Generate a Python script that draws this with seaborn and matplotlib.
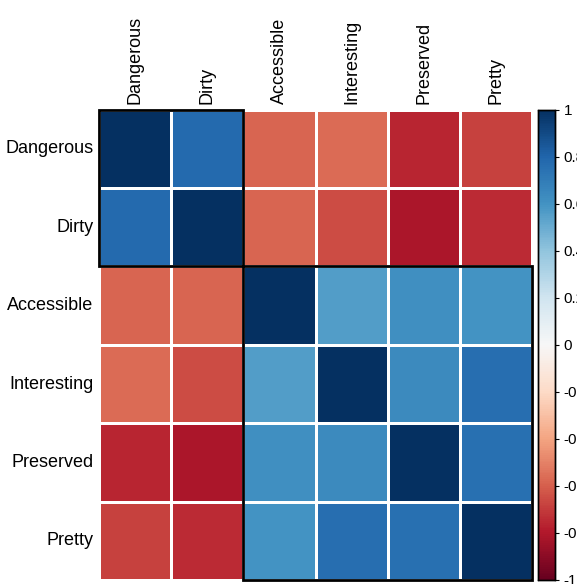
import numpy as np
import pandas as pd
import matplotlib
matplotlib.use("Agg")
import matplotlib.pyplot as plt
import matplotlib.patches as patches
import seaborn as sns

# Variables and their pairwise correlations
labels = ['Dangerous', 'Dirty', 'Accessible', 'Interesting', 'Preserved', 'Pretty']
row_dangerous = [1.00, 0.78, -0.58, -0.57, -0.76, -0.68]
row_dirty = [0.78, 1.00, -0.58, -0.65, -0.82, -0.75]
row_accessible = [-0.58, -0.58, 1.00, 0.56, 0.61, 0.60]
row_interesting = [-0.57, -0.65, 0.56, 1.00, 0.64, 0.76]
row_preserved = [-0.76, -0.82, 0.61, 0.64, 1.00, 0.75]
row_pretty = [-0.68, -0.75, 0.60, 0.76, 0.75, 1.00]
clusters = [(0, 2), (2, 6)]  # start, end index of each hclust rectangle
cbar_ticks = [1, 0.8, 0.6, 0.4, 0.2, 0, -0.2, -0.4, -0.6, -0.8, -1]

corr = pd.DataFrame([row_dangerous, row_dirty, row_accessible,
                     row_interesting, row_preserved, row_pretty],
                    index=labels, columns=labels)

sns.set_style("white")
plt.rcParams['font.family'] = ['Liberation Sans', 'DejaVu Sans']
plt.rcParams['text.color'] = 'black'
plt.rcParams['xtick.color'] = 'black'
plt.rcParams['ytick.color'] = 'black'

fig = plt.figure(figsize=(5.77, 5.84), dpi=100)
ax = fig.add_axes([0.172, 0.007, 0.750, 0.805])
cax = fig.add_axes([0.933, 0.007, 0.029, 0.805])

sns.heatmap(corr, ax=ax, cbar_ax=cax, cmap="RdBu", vmin=-1, vmax=1,
            linewidths=1, linecolor="white", square=False)

ax.xaxis.tick_top()
ax.set_xticklabels(labels, rotation=90, fontsize=13)
ax.set_yticklabels(labels, rotation=0, fontsize=13)
ax.tick_params(length=0, pad=4, labelcolor='black')
ax.set_xlabel("")
ax.set_ylabel("")

# cluster boxes
for s, e in clusters:
    ax.add_patch(patches.Rectangle((s, s), e - s, e - s, fill=False,
                                   edgecolor="black", lw=2, clip_on=False))

cax.set_yticks(cbar_ticks)
cax.set_yticklabels([f"{t:g}" for t in cbar_ticks])
cax.tick_params(labelsize=11, length=3, width=0.8, pad=3, labelcolor='black')
for sp in cax.spines.values():
    sp.set_visible(True)
    sp.set_color("black")
    sp.set_linewidth(1)

fig.savefig("out.png", dpi=100)
